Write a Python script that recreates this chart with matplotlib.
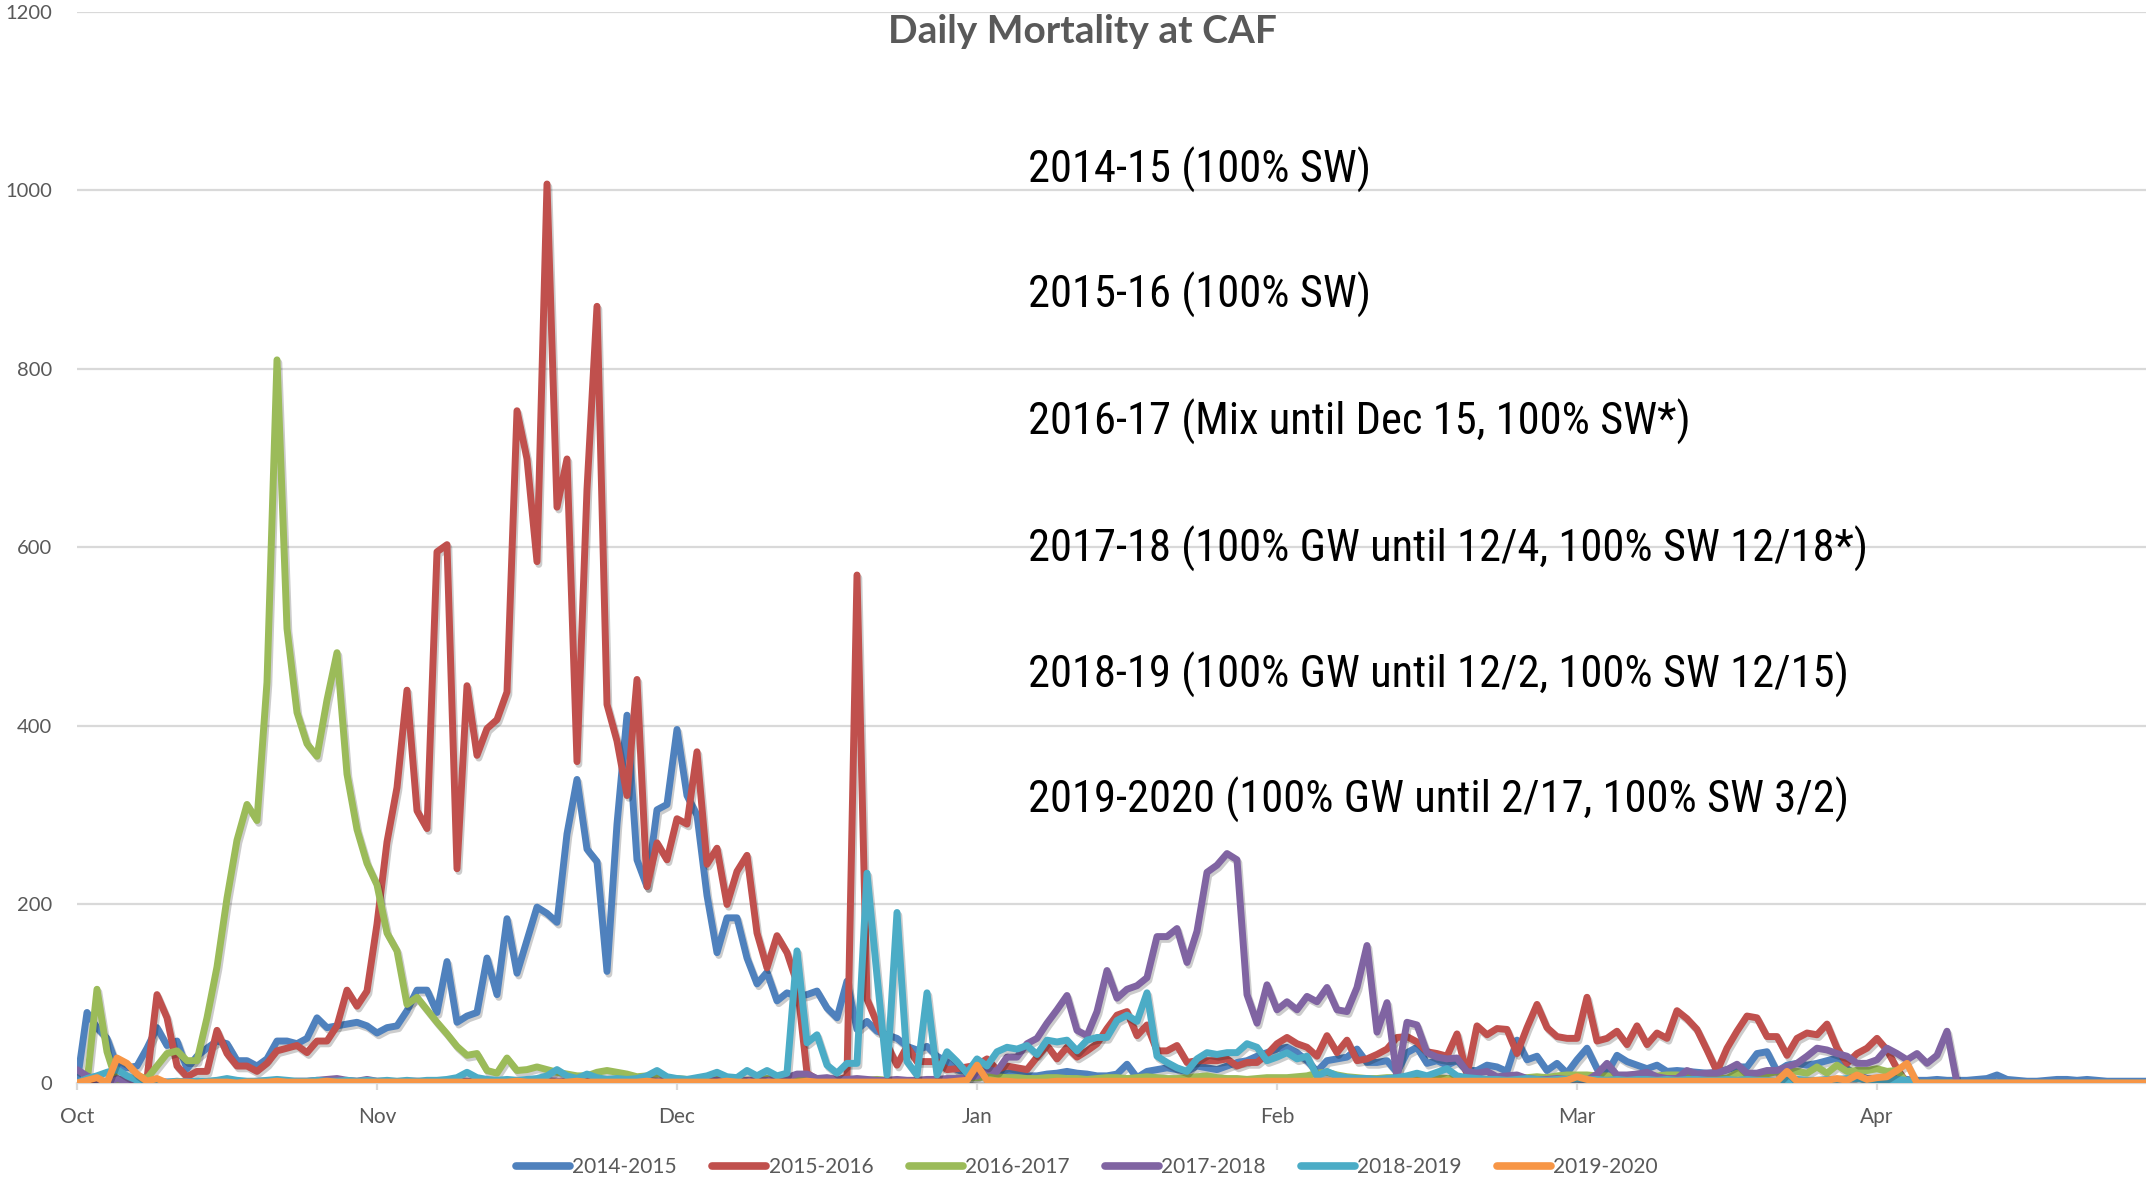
import os
import matplotlib
matplotlib.use("Agg")
import matplotlib.pyplot as plt
import matplotlib.patheffects as pe
from matplotlib import font_manager as fm
from matplotlib.textpath import TextToPath
from matplotlib.ft2font import FT2Font
import numpy as np

# ---------------- data (daily values, Oct 1 onward) ----------------
s2014_2015 = [0, 79, 62, 50, 19, 17, 19, 39, 62, 42, 47, 16, 30, 39, 47, 44, 25, 25, 19, 27,
              47, 47, 44, 50, 73, 62, 64, 66, 68, 64, 56, 62, 64, 81, 104, 104, 79, 136, 68, 75,
              79, 140, 99, 184, 123, 160, 197, 190, 180, 279, 340, 262, 248, 125, 290, 412, 250, 220, 306, 312,
              396, 322, 300, 210, 146, 185, 185, 140, 111, 124, 92, 101, 97, 99, 103, 84, 73, 114, 60, 69,
              58, 54, 50, 41, 37, 41, 30, 24, 15, 11, 14, 17, 12, 11, 13, 8, 8, 10, 11, 13,
              11, 10, 8, 8, 10, 21, 6, 13, 15, 17, 15, 13, 19, 17, 15, 19, 23, 25, 30, 34,
              38, 40, 34, 25, 13, 25, 27, 29, 38, 23, 23, 25, 12, 34, 40, 22, 25, 20, 25, 14,
              14, 20, 18, 13, 48, 26, 30, 14, 22, 11, 26, 39, 16, 11, 31, 24, 20, 16, 20, 13,
              14, 13, 12, 11, 12, 15, 18, 18, 33, 35, 13, 20, 22, 20, 22, 25, 28, 16, 9, 5,
              5, 4, 5, 4, 3, 3, 4, 3, 3, 3, 4, 5, 9, 4, 3, 2, 2, 3, 4, 4,
              3, 4, 3, 2, 2, 2, 2, 2]

s2015_2016 = [0, 0, 0, 2, 3, 3, 3, 5, 99, 73, 19, 7, 13, 13, 59, 33, 19, 19, 13, 22,
              36, 39, 42, 34, 47, 47, 64, 104, 86, 103, 178, 270, 331, 440, 305, 285, 595, 603, 240, 445,
              367, 397, 407, 438, 753, 699, 584, 1007, 645, 699, 360, 665, 870, 424, 383, 322, 452, 220, 269, 250,
              296, 290, 371, 245, 263, 200, 237, 255, 168, 129, 165, 146, 112, 11, 4, 3, 3, 7, 569, 94,
              67, 43, 20, 41, 24, 24, 24, 15, 16, 18, 20, 27, 15, 19, 17, 15, 29, 42, 27, 40,
              29, 36, 44, 61, 76, 80, 53, 65, 36, 36, 42, 23, 25, 25, 25, 27, 19, 23, 23, 32,
              44, 51, 44, 40, 30, 53, 34, 48, 25, 27, 32, 38, 51, 52, 46, 35, 33, 30, 55, 9,
              64, 54, 61, 60, 33, 62, 88, 62, 52, 50, 50, 96, 47, 50, 58, 43, 64, 43, 56, 50,
              81, 72, 60, 37, 13, 39, 58, 75, 73, 52, 52, 31, 50, 56, 54, 66, 39, 22, 33, 39,
              50, 37, 16, 0, 0, 0, 0, 0, 0, 0, 0, 0, 0, 0, 0, 0, 0, 0, 0, 0,
              0, 0, 0, 0, 0, 0, 0, 0]

s2016_2017 = [0, 0, 105, 35, 0, 0, 8, 5, 19, 33, 36, 25, 25, 73, 130, 207, 272, 312, 294, 449,
              810, 509, 415, 380, 366, 429, 482, 346, 284, 246, 222, 168, 148, 88, 96, 82, 68, 55, 41, 31,
              33, 14, 11, 28, 14, 15, 18, 15, 12, 10, 8, 8, 12, 14, 12, 10, 7, 8, 6, 5,
              5, 4, 4, 3, 4, 5, 4, 3, 4, 5, 4, 3, 6, 4, 3, 3, 4, 3, 3, 3,
              4, 3, 3, 2, 3, 3, 4, 3, 5, 6, 6, 7, 7, 6, 6, 5, 5, 6, 6, 5,
              5, 4, 5, 6, 6, 5, 6, 7, 6, 5, 5, 6, 7, 8, 6, 5, 5, 4, 5, 6,
              6, 6, 7, 8, 11, 12, 9, 7, 6, 5, 5, 6, 6, 5, 5, 5, 6, 5, 5, 4,
              4, 4, 5, 5, 6, 6, 7, 6, 8, 9, 9, 9, 8, 8, 7, 6, 6, 7, 8, 9,
              9, 8, 7, 6, 6, 5, 11, 10, 9, 10, 13, 13, 13, 11, 18, 11, 20, 13, 14, 14,
              16, 13, 14, 0, 0, 0, 0, 0, 0, 0, 0, 0, 0, 0, 0, 0, 0, 0, 0, 0,
              0, 0, 0, 0, 0, 0, 0, 0]

s2017_2018 = [15, 8, 3, 0, 5, 2, 0, 1, 2, 1, 1, 2, 1, 1, 2, 2, 1, 1, 2, 2,
              2, 1, 2, 2, 3, 4, 5, 3, 2, 4, 2, 2, 1, 2, 2, 1, 2, 2, 3, 2,
              2, 3, 2, 2, 3, 2, 2, 3, 2, 2, 3, 2, 3, 3, 2, 2, 3, 3, 2, 3,
              3, 3, 2, 3, 3, 3, 2, 3, 3, 3, 4, 6, 10, 10, 5, 6, 4, 4, 5, 4,
              3, 3, 4, 3, 3, 4, 4, 5, 5, 6, 8, 15, 13, 29, 29, 44, 50, 67, 82, 98,
              59, 53, 80, 126, 95, 105, 109, 118, 164, 164, 173, 135, 170, 236, 244, 257, 250, 99, 67, 110,
              82, 91, 82, 97, 91, 107, 82, 80, 107, 154, 57, 90, 6, 68, 65, 34, 29, 27, 28, 13,
              11, 13, 7, 8, 9, 5, 4, 4, 5, 4, 5, 3, 10, 22, 9, 9, 10, 12, 7, 5,
              5, 14, 10, 11, 11, 15, 21, 11, 11, 14, 14, 18, 22, 30, 39, 37, 33, 30, 22, 22,
              26, 39, 33, 26, 33, 22, 31, 58, 0, 0, 0, 0, 0, 0, 0, 0, 0, 0, 0, 0,
              0, 0, 0, 0, 0, 0, 0, 0]

s2018_2019 = [0, 5, 8, 12, 15, 8, 3, 2, 0, 1, 2, 1, 2, 2, 3, 5, 3, 2, 2, 3,
              4, 3, 2, 2, 3, 2, 2, 3, 2, 3, 2, 3, 2, 3, 2, 3, 3, 4, 6, 12,
              6, 4, 3, 4, 3, 4, 5, 8, 15, 8, 5, 10, 6, 4, 5, 4, 5, 8, 14, 7,
              5, 4, 6, 8, 12, 7, 6, 14, 8, 14, 8, 11, 148, 45, 54, 20, 11, 22, 22, 235,
              120, 9, 191, 24, 9, 101, 9, 35, 24, 11, 27, 19, 35, 40, 38, 42, 32, 48, 46, 48,
              36, 48, 51, 51, 70, 76, 69, 101, 30, 23, 17, 13, 27, 34, 32, 34, 34, 44, 40, 25,
              29, 34, 27, 30, 8, 13, 8, 6, 5, 5, 4, 5, 6, 8, 11, 8, 12, 16, 8, 6,
              5, 4, 4, 3, 4, 5, 4, 3, 4, 4, 5, 4, 4, 3, 4, 3, 4, 4, 3, 4,
              3, 4, 4, 3, 3, 4, 3, 4, 3, 3, 2, 3, 4, 3, 3, 4, 4, 5, 5, 4,
              3, 3, 4, 3, 0, 0, 0, 0, 0, 0, 0, 0, 0, 0, 0, 0, 0, 0, 0, 0,
              0, 0, 0, 0, 0, 0, 0, 0]

s2019_2020 = [0, 3, 6, 0, 28, 22, 10, 2, 5, 0, 1, 1, 0, 1, 1, 1, 0, 1, 1, 1,
              2, 1, 1, 1, 1, 2, 1, 1, 1, 1, 1, 1, 1, 1, 1, 1, 1, 1, 1, 1,
              1, 1, 1, 1, 2, 1, 1, 1, 1, 1, 2, 1, 1, 1, 1, 1, 1, 2, 1, 1,
              1, 1, 1, 1, 1, 2, 1, 1, 1, 1, 1, 1, 1, 2, 1, 1, 1, 1, 1, 1,
              1, 1, 1, 1, 1, 1, 1, 1, 2, 3, 20, 3, 2, 2, 1, 1, 1, 1, 2, 2,
              2, 2, 2, 2, 2, 2, 2, 2, 2, 2, 2, 2, 2, 2, 2, 2, 2, 2, 2, 2,
              2, 2, 2, 2, 2, 2, 2, 2, 2, 2, 2, 2, 2, 2, 2, 2, 2, 2, 2, 2,
              2, 2, 2, 2, 2, 2, 2, 2, 2, 3, 7, 4, 2, 2, 2, 2, 2, 2, 2, 2,
              2, 2, 2, 2, 2, 2, 2, 2, 2, 2, 2, 13, 2, 2, 3, 3, 5, 3, 9, 4,
              6, 7, 14, 22, 0, 0, 0, 0, 0, 0, 0, 0, 0, 0, 0, 0, 0, 0, 0, 0,
              0, 0, 0, 0, 0, 0, 0, 0]

series_names = ["2014-2015", "2015-2016", "2016-2017", "2017-2018", "2018-2019", "2019-2020"]
series_colors = ["#4F81BD", "#C0504D", "#9BBB59", "#8064A2", "#4BACC6", "#F79646"]
series_values = [s2014_2015, s2015_2016, s2016_2017, s2017_2018, s2018_2019, s2019_2020]

month_labels = ["Oct", "Nov", "Dec", "Jan", "Feb", "Mar", "Apr"]
month_positions = [0, 30, 60, 90, 120, 150, 180]
y_ticks = [0, 200, 400, 600, 800, 1000, 1200]

title_text = "Daily Mortality at CAF"
notes = ["2014-15 (100% SW)",
         "2015-16 (100% SW)",
         "2016-17 (Mix until Dec 15, 100% SW*)",
         "2017-18 (100% GW until 12/4, 100% SW 12/18*)",
         "2018-19 (100% GW until 12/2, 100% SW 12/15)",
         "2019-2020 (100% GW until 2/17, 100% SW 3/2)"]

target_w_pt = 817 * 0.72      # width of the longest note line in the reference
target_cap_pt = 37 * 0.72     # cap height of the notes in the reference


# ---------- choose a (preferably condensed) sans face for the notes ----------
def has_glyphs(path, text):
    try:
        ft = FT2Font(path)
        return all(ft.get_char_index(ord(c)) != 0 for c in set(text) if c != " ")
    except Exception:
        return False


def pick_note_font():
    all_text = "".join(notes)
    cands = []
    specs = [("Liberation Sans Narrow", "normal", "narrow"),
             ("Roboto Condensed", "normal", "condensed"),
             ("Noto Sans", "extra-condensed", "extracondensed"),
             ("Noto Sans", "condensed", "condensed"),
             ("Noto Sans", "semi-condensed", "semicondensed"),
             ("Open Sans", "condensed", "condensed"),
             ("Open Sans", "semi-condensed", "semicondensed"),
             ("DejaVu Sans", "condensed", "condensed"),
             ("Roboto", "normal", ""),
             ("Liberation Sans", "normal", ""),
             ("DejaVu Sans", "normal", "")]
    for fam, st, key in specs:
        try:
            fp = fm.FontProperties(family=fam, stretch=st, weight="normal", style="normal")
            path = fm.findfont(fp, fallback_to_default=False)
        except Exception:
            continue
        base = os.path.basename(path).lower().replace("-", "").replace("_", "")
        if key and key not in base:
            continue
        if key == "condensed" and ("semicondensed" in base or "extracondensed" in base):
            continue
        if "italic" in base or "bold" in base:
            continue
        if not has_glyphs(path, all_text):
            continue
        cands.append(path)
    t2p = TextToPath()
    target_ratio = target_w_pt / target_cap_pt
    best = None
    for path in cands:
        try:
            fp = fm.FontProperties(fname=path, size=10)
            wd, _, _ = t2p.get_text_width_height_descent(notes[3], fp, ismath=False)
            _, hh, dd = t2p.get_text_width_height_descent("H", fp, ismath=False)
            cap = hh - dd
            ratio = wd / cap
        except Exception:
            continue
        score = abs(np.log(ratio / target_ratio))
        if best is None or score < best[0]:
            best = (score, path, wd / 10.0, cap / 10.0)
    return best


best = pick_note_font()
if best is not None:
    note_prop = fm.FontProperties(fname=best[1])
    s_w = target_w_pt / best[2]
    s_h = target_cap_pt / best[3]
    note_size = s_w ** 0.85 * s_h ** 0.15
else:
    note_prop = fm.FontProperties(family="DejaVu Sans")
    note_size = 26

# ---------------- figure ----------------
W, H = 2146, 1181
fig = plt.figure(figsize=(W / 100, H / 100), dpi=100)
fig.patch.set_facecolor("white")

ax = fig.add_axes([77 / W, (H - 1083) / H, (W - 77) / W, (1083 - 11.7) / H])
ax.set_xlim(0, 206.9)
ax.set_ylim(0, 1200)

grey_txt = "#595959"
grid_c = "#D9D9D9"

for v in y_ticks[1:]:
    ax.axhline(v, color=grid_c, lw=1.6, zorder=0)

for name, col, vals in zip(series_names, series_colors, series_values):
    x = np.arange(len(vals))
    ax.plot(x, vals, color=col, lw=5.0, label=name, solid_joinstyle="round",
            solid_capstyle="round", zorder=3,
            path_effects=[pe.SimpleLineShadow(offset=(1.3, -2.0), shadow_color="black",
                                              alpha=0.2), pe.Normal()])

for sp in ["top", "right", "left"]:
    ax.spines[sp].set_visible(False)
ax.spines["bottom"].set_color(grid_c)
ax.spines["bottom"].set_linewidth(1.6)
ax.spines["bottom"].set_zorder(1)

ax.set_yticks(y_ticks)
ax.set_yticklabels([str(v) for v in y_ticks])
ax.set_xticks(month_positions)
ax.set_xticklabels(month_labels)
ax.tick_params(axis="y", length=0, pad=18, labelsize=14.5, labelcolor=grey_txt)
ax.tick_params(axis="x", length=5, width=1.6, color=grid_c, pad=12, labelsize=15,
               labelcolor=grey_txt)
for lab in ax.get_xticklabels() + ax.get_yticklabels():
    lab.set_fontfamily(["Lato", "DejaVu Sans"])

fig.text(1082 / W, 1 - 43 / H, title_text, ha="center", va="baseline",
         fontsize=28, fontweight="bold", color=grey_txt, family=["Lato", "DejaVu Sans"])

baselines = [183, 308, 435, 562, 688, 813]
for t, yb in zip(notes, baselines):
    fig.text(1028 / W, 1 - yb / H, t, ha="left", va="baseline", fontsize=note_size,
             color="black", fontproperties=note_prop)

leg = fig.legend(loc="center", bbox_to_anchor=(1087 / W, 1 - 1167 / H), ncol=6,
                 frameon=False, prop={"family": ["Lato", "DejaVu Sans"], "size": 15},
                 handlelength=2.6, handletextpad=0.1, columnspacing=1.7)
for t in leg.get_texts():
    t.set_color(grey_txt)
for h in leg.legend_handles:
    h.set_linewidth(5.5)
    h.set_path_effects([])

fig.savefig("out.png", dpi=100, facecolor="white")
